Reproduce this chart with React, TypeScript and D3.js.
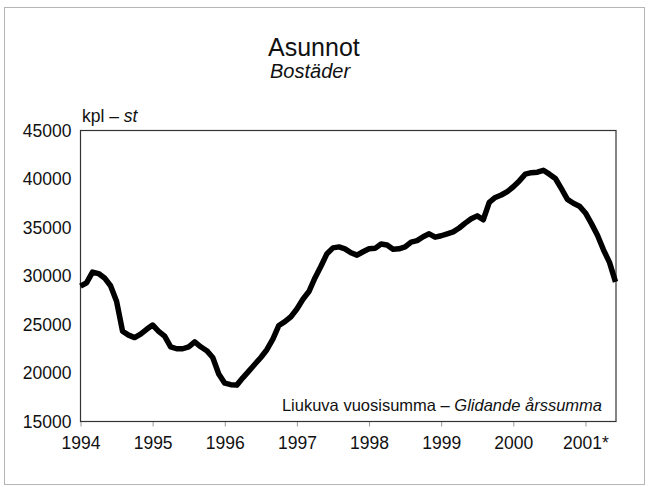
import React, { useEffect, useRef } from "react";
import { select, scaleLinear, line, axisBottom, axisLeft } from "d3";

// monthly rolling annual sum, Jan 1994 - Jun 2001
const housing = [
  28950, 29300, 30400, 30250, 29800, 29000, 27400, 24300, 23900, 23650, 24000, 24500,
  24950, 24300, 23800, 22700, 22500, 22500, 22700, 23200, 22700, 22300, 21600, 19900,
  18950, 18800, 18750, 19500, 20200, 20900, 21600, 22400, 23500, 24900, 25300, 25800,
  26600, 27600, 28400, 29800, 31000, 32300, 32900, 33000, 32800, 32400, 32150, 32500,
  32800, 32850, 33300, 33200, 32750, 32800, 33000, 33500, 33650, 34050, 34350, 34000,
  34150, 34350, 34550, 34950, 35450, 35900, 36200, 35800, 37600, 38100, 38350, 38700,
  39200, 39800, 40500, 40650, 40700, 40900, 40500, 40050, 39000, 37900, 37500, 37200,
  36500, 35400, 34200, 32700, 31400, 29400,
];

const yearTicks = [0, 12, 24, 36, 48, 60, 72, 84];
const yearLabels = ["1994", "1995", "1996", "1997", "1998", "1999", "2000", "2001*"];
const yTicks = [15000, 20000, 25000, 30000, 35000, 40000, 45000];

const FONT = "'Liberation Sans Narrow', 'Arial Narrow', 'Liberation Sans', sans-serif";

const App = () => {
  const svgRef = useRef<SVGSVGElement>(null);

  useEffect(() => {
    const svg = select(svgRef.current);
    svg.selectAll("*").remove();

    const left = 80.5;
    const right = 616;
    const top = 130.5;
    const bottom = 421.5;

    const xScale = scaleLinear().domain([0, housing.length - 1]).range([left, right - 0.5]);
    const yScale = scaleLinear().domain([15000, 45000]).range([bottom, top]);

    // outer page border
    svg
      .append("rect")
      .attr("x", 4.5)
      .attr("y", 7.5)
      .attr("width", 640)
      .attr("height", 477)
      .attr("fill", "none")
      .attr("stroke", "#b5b5b5")
      .attr("stroke-width", 1);

    // titles
    svg
      .append("text")
      .attr("x", 268)
      .attr("y", 56)
      .style("font-family", FONT)
      .style("font-size", "25px")
      .attr("fill", "#111")
      .text("Asunnot");
    svg
      .append("text")
      .attr("x", 270)
      .attr("y", 78)
      .style("font-family", FONT)
      .style("font-size", "20px")
      .style("font-style", "italic")
      .attr("fill", "#111")
      .text("Bostäder");

    const unit = svg
      .append("text")
      .attr("x", 82)
      .attr("y", 122)
      .style("font-family", FONT)
      .style("font-size", "17.5px")
      .attr("fill", "#111");
    unit.append("tspan").text("kpl – ");
    unit.append("tspan").style("font-style", "italic").text("st");

    // axes
    const yAxis = axisLeft(yScale).tickValues(yTicks).tickSize(0).tickPadding(9).tickFormat((d) => String(d));
    const gy = svg.append("g").attr("transform", `translate(${left},0)`).call(yAxis);
    gy.select(".domain").remove();
    gy.selectAll("text")
      .style("font-family", FONT)
      .style("font-size", "17.5px")
      .attr("fill", "#111");

    const xAxis = axisBottom(xScale)
      .tickValues(yearTicks)
      .tickSize(5)
      .tickPadding(10)
      .tickFormat((d, i) => yearLabels[i]);
    const gx = svg.append("g").attr("transform", `translate(0,${bottom})`).call(xAxis);
    gx.select(".domain").remove();
    gx.selectAll("line").attr("stroke", "#999");
    gx.selectAll("text")
      .style("font-family", FONT)
      .style("font-size", "17.5px")
      .attr("fill", "#111");

    // plot frame
    svg
      .append("rect")
      .attr("x", left)
      .attr("y", top)
      .attr("width", right - left)
      .attr("height", bottom - top)
      .attr("fill", "none")
      .attr("stroke", "#333")
      .attr("stroke-width", 1.2);

    // note
    const note = svg
      .append("text")
      .attr("x", 602)
      .attr("y", 411)
      .attr("text-anchor", "end")
      .style("font-family", FONT)
      .style("font-size", "16.5px")
      .attr("fill", "#111");
    note.append("tspan").text("Liukuva vuosisumma – ");
    note.append("tspan").style("font-style", "italic").text("Glidande årssumma");

    // series
    const path = line<number>()
      .x((d, i) => xScale(i))
      .y((d) => yScale(d));

    svg
      .append("path")
      .datum(housing)
      .attr("d", path)
      .attr("fill", "none")
      .attr("stroke", "#000")
      .attr("stroke-width", 5.5)
      .attr("stroke-linejoin", "round")
      .attr("stroke-linecap", "butt");
  }, []);

  return (
    <svg
      ref={svgRef}
      width={648}
      height={487}
      style={{ position: "absolute", left: 0, top: 0, background: "#fff" }}
    />
  );
};

export default App;
